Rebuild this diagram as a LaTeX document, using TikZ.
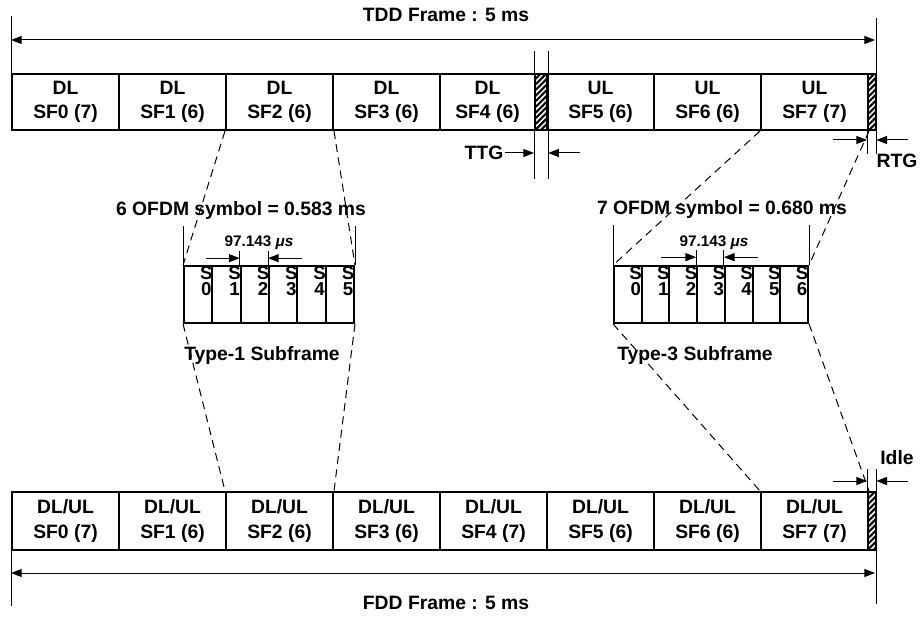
\documentclass[tikz,border=0pt]{standalone}
\usepackage{fontspec}
\setmainfont{Liberation Sans}
\usetikzlibrary{positioning,arrows.meta,patterns.meta}
\tikzset{
  sf/.style    = {rectangle, draw, line width=1.5pt, minimum height=42pt, anchor=west,
                  align=center, inner sep=0pt, font=\bfseries\fontsize{14.5}{18.5}\selectfont},
  gap/.style   = {rectangle, draw, line width=1pt, minimum height=42pt, anchor=west, inner sep=0pt,
                  pattern={Lines[angle=45,distance=3pt,line width=1.6pt]}},
  cell/.style  = {rectangle, draw, line width=1.5pt, minimum height=42.5pt, anchor=west, inner sep=0pt},
  sym/.style   = {anchor=north east, align=center, inner sep=0.4pt,
                  font=\bfseries\fontsize{14}{12.5}\selectfont},
  lbl/.style   = {inner sep=1pt, font=\bfseries\fontsize{14.5}{17}\selectfont},
  small/.style = {inner sep=1pt, font=\bfseries\fontsize{11.5}{13}\selectfont},
  tick/.style  = {line width=0.75pt},
  dim/.style   = {line width=0.75pt, -{Triangle[length=8pt,width=6pt]}},
  span/.style  = {line width=0.75pt, {Triangle[length=8pt,width=6pt]}-{Triangle[length=8pt,width=6pt]}},
  zoom/.style  = {line width=0.75pt, dash pattern=on 6pt off 4pt},
}

\begin{document}
\begin{tikzpicture}[x=0.75pt,y=-0.75pt]
  \useasboundingbox (0,0) rectangle (920,620);

  % TDD frame
  \foreach \n/\x/\w/\a/\b in {0/11/80.25/DL/SF0 (7), 1/118/80.25/DL/SF1 (6), 2/225/80.25/DL/SF2 (6),
                              3/332/80.25/DL/SF3 (6), 4/439/71.25/DL/SF4 (6), 5/546/80.25/UL/SF5 (6),
                              6/653/80.25/UL/SF6 (6), 7/760/80.25/UL/SF7 (7)}
    \node[sf, minimum width=\w pt] (t\n) at (\x,102) {\a\\\b};
  \node[gap, minimum width=9pt] (ttg) at (534,102) {};
  \node[gap, minimum width=6pt] (rtg) at (867,102) {};

  % FDD frame
  \foreach \n/\x/\b in {0/11/SF0 (7), 1/118/SF1 (6), 2/225/SF2 (6), 3/332/SF3 (6),
                        4/439/SF4 (7), 5/546/SF5 (6), 6/653/SF6 (6), 7/760/SF7 (7)}
    \node[sf, minimum width=80.25pt, minimum height=43.5pt] (b\n) at (\x,521) {DL/UL\\\b};
  \node[gap, minimum width=6pt, minimum height=43.5pt] (idle) at (867,521) {};

  % Type-1 and Type-3 subframes
  \foreach \i in {0,...,5}
    \node[cell, minimum width=21.25pt] (c1\i) at (183+28.333*\i,294.5) {};
  \foreach \i in {0,...,5}
    \node[sym] (s1\i) at (c1\i.north east) {S\\\i};
  \foreach \i in {0,...,6}
    \node[cell, minimum width=20.79pt] (c3\i) at (613+27.714*\i,294.5) {};
  \foreach \i in {0,...,6}
    \node[sym] (s3\i) at (c3\i.north east) {S\\\i};

  % labels
  \node[lbl] (tdd) at (446,15) {TDD Frame : 5 ms};
  \node[lbl] (fdd) at (446,603) {FDD Frame : 5 ms};
  \node[lbl] (sym6) at (241,211) {6 OFDM symbol = 0.583 ms};
  \node[lbl] (sym7) at (722,210) {7 OFDM symbol = 0.680 ms};
  \node[lbl] (type1) at (262,355) {Type-1 Subframe};
  \node[lbl] (type3) at (695,355) {Type-3 Subframe};
  \node[small] (mu1) at (259,243) {97.143 \textit{μs}};
  \node[small] (mu3) at (714,243) {97.143 \textit{μs}};
  \node[lbl] (ttglab) at (484,153) {TTG};
  \node[lbl] (rtglab) at (897,161) {RTG};
  \node[lbl] (idlelab) at (897,458) {Idle};

  % frame spans
  \coordinate (tddL) at (11,40);
  \coordinate (tddR) at (875,40);
  \coordinate (fddL) at (11,573);
  \coordinate (fddR) at (875,573);
  \draw[span] (tddL) -- (tddR);
  \draw[span] (fddL) -- (fddR);
  \draw[tick] (t0.north west) -- ++(0,-57);
  \draw[tick] (rtg.south east) ++(0,23) -- ++(0,-136);
  \draw[tick] (b0.south west) -- ++(0,55);
  \draw[tick] (idle.north east) ++(0,-22) -- ++(0,135);

  % guard times
  \draw[tick] (ttg.north west) ++(0,-22) -- ++(0,128);
  \draw[tick] (ttg.north east) ++(0,-22) -- ++(0,128);
  \coordinate (ttgR) at (580,153);
  \draw[dim] (ttglab.east) -- (ttglab.east -| ttg.west);
  \draw[dim] (ttgR) -- (ttgR -| ttg.east);
  \draw[tick] (rtg.south west) -- ++(0,23);
  \coordinate (rtgL) at (833,140);
  \coordinate (rtgR) at (908,140);
  \draw[dim] (rtgL) -- (rtgL -| rtg.west);
  \draw[dim] (rtgR) -- (rtgR -| rtg.east);
  \draw[tick] (idle.north west) -- ++(0,-22);
  \coordinate (idleL) at (833,481);
  \coordinate (idleR) at (908,481);
  \draw[dim] (idleL) -- (idleL -| idle.west);
  \draw[dim] (idleR) -- (idleR -| idle.east);

  % symbol durations
  \draw[tick] (c10.north west) -- ++(0,-39);
  \draw[tick] (c15.north east) -- ++(0,-39);
  \draw[tick] (c12.north west) -- ++(0,-14);
  \draw[tick] (c13.north west) -- ++(0,-14);
  \draw[dim] ([shift={(-34,-7)}]c12.north west) -- ([shift={(0,-7)}]c12.north west);
  \draw[dim] ([shift={(34,-7)}]c13.north west) -- ([shift={(0,-7)}]c13.north west);
  \draw[tick] (c30.north west) -- ++(0,-40);
  \draw[tick] (c36.north east) -- ++(0,-40);
  \draw[tick] (c33.north west) -- ++(0,-15);
  \draw[tick] (c34.north west) -- ++(0,-15);
  \draw[dim] ([shift={(-35,-8)}]c33.north west) -- ([shift={(0,-8)}]c33.north west);
  \draw[dim] ([shift={(34,-8)}]c34.north west) -- ([shift={(0,-8)}]c34.north west);

  % zoom lines
  \draw[zoom] (t2.south west) -- (c10.north west);
  \draw[zoom] (t2.south east) -- (c15.north east);
  \draw[zoom] (c10.south west) -- (b2.north west);
  \draw[zoom] (c15.south east) -- (b2.north east);
  \draw[zoom] (t7.south west) -- (c30.north west);
  \draw[zoom] (t7.south east) -- (c36.north east);
  \draw[zoom] (c30.south west) -- (b7.north west);
  \draw[zoom] (c36.south east) -- (b7.north east);
\end{tikzpicture}
\end{document}
